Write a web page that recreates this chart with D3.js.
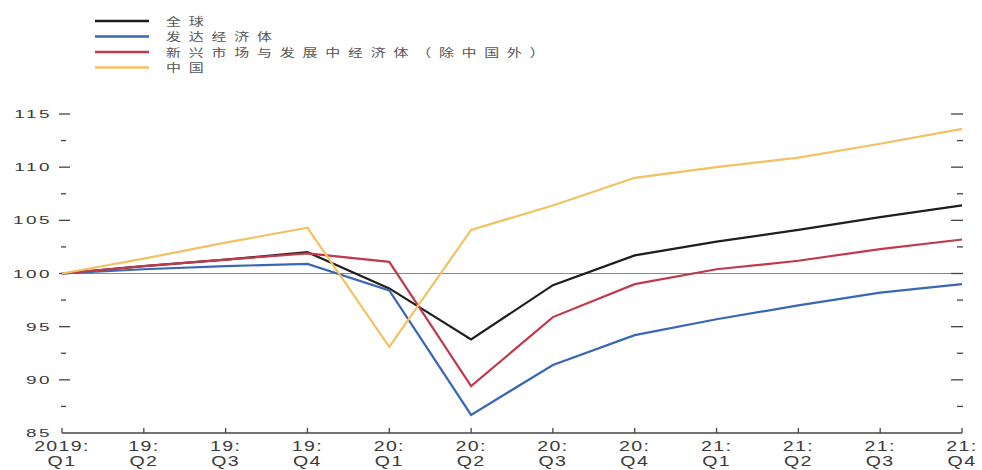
<!DOCTYPE html>
<html>
<head>
<meta charset="utf-8">
<script src="https://cdn.jsdelivr.net/npm/d3@7"></script>
<style>
  html, body { margin: 0; padding: 0; background: #fff; }
  svg { display: block; }
</style>
</head>
<body>
<svg id="chart" width="982" height="470"></svg>
<script>
// Quarter labels (two lines each)
const quarterTop = ["2019:", "19:", "19:", "19:", "20:", "20:", "20:", "20:", "21:", "21:", "21:", "21:"];
const quarterBottom = ["Q1", "Q2", "Q3", "Q4", "Q1", "Q2", "Q3", "Q4", "Q1", "Q2", "Q3", "Q4"];

// Index, 2019:Q1 = 100
const globalValues   = [100, 100.7, 101.3, 102.0, 98.6, 93.8, 98.9, 101.7, 103.0, 104.1, 105.3, 106.4];
const advancedValues = [100, 100.4, 100.7, 100.9, 98.4, 86.7, 91.4, 94.2, 95.7, 97.0, 98.2, 99.0];
const emdeValues     = [100, 100.7, 101.3, 101.9, 101.1, 89.4, 95.9, 99.0, 100.4, 101.2, 102.3, 103.2];
const chinaValues    = [100, 101.4, 102.9, 104.3, 93.1, 104.1, 106.4, 109.0, 110.0, 110.9, 112.2, 113.6];

const seriesNames = ["全球", "发达经济体", "新兴市场与发展中经济体（除中国外）", "中国"];
const seriesColors = ["#1e1e1e", "#3a67b5", "#c03a4c", "#f2c162"];
const seriesValues = [globalValues, advancedValues, emdeValues, chinaValues];

const yMajorTicks = [85, 90, 95, 100, 105, 110, 115];
const yMinorTicks = [87.5, 92.5, 97.5, 102.5, 107.5, 112.5];

const svg = d3.select("#chart");
const x = d3.scaleLinear().domain([0, quarterTop.length - 1]).range([62, 962]);
const y = d3.scaleLinear().domain([85, 115]).range([433, 114]);

const axisColor = "#444";
const textColor = "#3a3a3a";
const font = "'Liberation Sans', Arial, sans-serif";

// Baseline at 100
svg.append("line")
  .attr("x1", x(0)).attr("x2", x(11))
  .attr("y1", y(100)).attr("y2", y(100))
  .attr("stroke", "#8a8a8a").attr("stroke-width", 1);

// Left ticks and labels
const left = svg.append("g");
left.selectAll("line.major").data(yMajorTicks.filter(d => d > 85)).join("line")
  .attr("x1", 59).attr("x2", 70)
  .attr("y1", d => y(d)).attr("y2", d => y(d))
  .attr("stroke", axisColor).attr("stroke-width", 1.3);
left.selectAll("line.minor").data(yMinorTicks).join("line")
  .attr("x1", 61).attr("x2", 66)
  .attr("y1", d => y(d)).attr("y2", d => y(d))
  .attr("stroke", axisColor).attr("stroke-width", 1.3);
left.selectAll("text").data(yMajorTicks).join("text")
  .attr("transform", d => `translate(52,${y(d) + 4}) scale(1.65,1)`)
  .attr("text-anchor", "end")
  .attr("font-family", font).attr("font-size", 11.5)
  .attr("letter-spacing", 1.5)
  .attr("fill", textColor)
  .text(d => d);

// Right ticks
const right = svg.append("g");
right.selectAll("line.major").data(yMajorTicks.filter(d => d > 85)).join("line")
  .attr("x1", 951).attr("x2", 963)
  .attr("y1", d => y(d)).attr("y2", d => y(d))
  .attr("stroke", axisColor).attr("stroke-width", 1.3);
right.selectAll("line.minor").data(yMinorTicks).join("line")
  .attr("x1", 957).attr("x2", 963)
  .attr("y1", d => y(d)).attr("y2", d => y(d))
  .attr("stroke", axisColor).attr("stroke-width", 1.3);

// Bottom axis
const bottom = svg.append("g");
bottom.append("line")
  .attr("x1", x(0)).attr("x2", x(11))
  .attr("y1", y(85)).attr("y2", y(85))
  .attr("stroke", axisColor).attr("stroke-width", 1.3);
bottom.selectAll("line.tick").data(quarterTop.map((d, i) => i)).join("line")
  .attr("x1", d => x(d)).attr("x2", d => x(d))
  .attr("y1", y(85)).attr("y2", y(85) - 5)
  .attr("stroke", axisColor).attr("stroke-width", 1.3);
const qLabels = bottom.selectAll("g.q").data(quarterTop.map((d, i) => i)).join("g")
  .attr("transform", d => `translate(${x(d)},0)`);
qLabels.append("text")
  .attr("transform", `translate(0,451) scale(1.35,1)`)
  .attr("text-anchor", "middle")
  .attr("font-family", font).attr("font-size", 14.5)
  .attr("letter-spacing", 1)
  .attr("fill", textColor)
  .text(d => quarterTop[d]);
qLabels.append("text")
  .attr("transform", `translate(0,466) scale(1.35,1)`)
  .attr("text-anchor", "middle")
  .attr("font-family", font).attr("font-size", 14.5)
  .attr("letter-spacing", 1)
  .attr("fill", textColor)
  .text(d => quarterBottom[d]);

// Series lines
const line = d3.line().x((d, i) => x(i)).y(d => y(d));
svg.append("g").selectAll("path").data(seriesValues).join("path")
  .attr("d", d => line(d))
  .attr("fill", "none")
  .attr("stroke", (d, i) => seriesColors[i])
  .attr("stroke-width", 2.2)
  .attr("stroke-linejoin", "miter");

// Legend
const legend = svg.append("g");
const legendRows = legend.selectAll("g").data(seriesNames).join("g")
  .attr("transform", (d, i) => `translate(95,${21 + i * 15.5})`);
legendRows.append("line")
  .attr("x1", 0).attr("x2", 54)
  .attr("stroke", (d, i) => seriesColors[i])
  .attr("stroke-width", 2.5);
legendRows.append("text")
  .attr("transform", "translate(71,4.5) scale(1.3,1)")
  .attr("font-family", "'Noto Sans CJK SC', sans-serif")
  .attr("font-size", 11.5)
  .attr("letter-spacing", 6)
  .attr("fill", "#555")
  .text(d => d);
</script>
</body>
</html>
